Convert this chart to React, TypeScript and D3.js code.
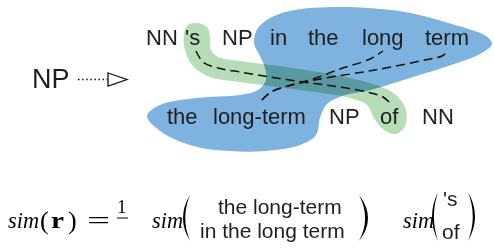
import * as d3 from "d3";

// word rows of the alignment diagram
const topWords = ["NN", "'s", "NP", "in", "the", "long", "term"];
const bottomWords = ["the", "long-term", "NP", "of", "NN"];

// word starts (px)
const topX = [146, 185, 222, 270, 308, 362, 425];
const bottomX = [167, 213, 329, 380, 422];

// region outlines
const blueOutline: [number, number][] = [
  [254, 43], [258, 28], [272, 17], [295, 10], [340, 7], [405, 12], [455, 25],
  [486, 36], [492, 44], [480, 54], [460, 62], [410, 78], [370, 90], [342, 96],
  [327, 104], [320, 118], [316, 135], [300, 145], [265, 151], [230, 151],
  [197, 147], [163, 133], [147, 116], [160, 105], [197, 98], [240, 95],
  [258, 90], [266, 80], [265, 68], [260, 56],
];
const greenOutline: [number, number][] = [
  [196, 23], [207, 27], [210, 38], [211, 50], [218, 57], [240, 61], [300, 69],
  [345, 77], [376, 85], [396, 95], [406, 110], [405, 126], [396, 134],
  [384, 130], [374, 118], [367, 105], [350, 98], [300, 90], [240, 82],
  [210, 77], [192, 65], [185, 50], [184, 33], [188, 25],
];

// alignment links
const links: [number, number][][] = [
  [[196, 51], [203, 62], [218, 68], [240, 72], [270, 77], [303, 82], [333, 86], [367, 92], [383, 97], [390, 103]],
  [[262, 100], [271, 92], [288, 86], [310, 80], [340, 69], [370, 59], [383, 51]],
  [[262, 100], [271, 92], [288, 86], [320, 79], [375, 70], [425, 60], [442, 56], [448, 51]],
];

const colTop = ["the long-term", "'s"];
const colBottom = ["in the long term", "of"];

const sans = "'Liberation Sans', Arial, sans-serif";
const serif = "'Liberation Serif', 'DejaVu Serif', serif";
const ink = "#1f1f1f";

function paren(x0: number, x1: number, y0: number, y1: number) {
  // filled crescent, x0 = tips, x1 = apex
  const ym = (y0 + y1) / 2;
  const cOut = 2 * x1 - x0;
  const inner = x1 + (x0 - x1) * 0.32;
  const cIn = 2 * inner - x0;
  const p = d3.path();
  p.moveTo(x0, y0);
  p.quadraticCurveTo(cOut, ym, x0, y1);
  p.quadraticCurveTo(cIn, ym, x0, y0);
  p.closePath();
  return p.toString();
}

function Sim({ x }: { x: number }) {
  return (
    <text x={x} y={228} fontFamily={serif} fontStyle="italic" fontSize={24} fill="#000"
      textLength={31} lengthAdjust="spacingAndGlyphs">
      sim
    </text>
  );
}

export default function App() {
  const blob = d3.line().curve(d3.curveCatmullRomClosed.alpha(0.5));
  const link = d3.line().curve(d3.curveCatmullRom.alpha(0.5));

  const arrow = d3.path();
  arrow.moveTo(108, 73);
  arrow.lineTo(127, 79.5);
  arrow.lineTo(108, 86);
  arrow.closePath();

  return (
    <svg width={494} height={249} style={{ position: "absolute", left: 0, top: 0 }}>
      <rect width={494} height={249} fill="white" />
      <path d={blob(greenOutline) ?? ""} fill="#b6dcb8" />
      <path d={blob(blueOutline) ?? ""} fill="#7db3de" style={{ mixBlendMode: "multiply" }} />

      {links.map((l, i) => (
        <path key={i} d={link(l) ?? ""} fill="none" stroke="#111" strokeWidth={1.5} strokeDasharray="9 5" />
      ))}

      {topWords.map((w, i) => (
        <text key={"t" + i} x={topX[i]} y={45} fontFamily={sans} fontSize={22} fill={ink}>
          {w}
        </text>
      ))}
      {bottomWords.map((w, i) => (
        <text key={"b" + i} x={bottomX[i]} y={124} fontFamily={sans} fontSize={22} fill={ink}>
          {w}
        </text>
      ))}

      {/* NP ⇢ */}
      <text x={32} y={88} fontFamily={sans} fontSize={27} fill={ink}>NP</text>
      <line x1={78} x2={108} y1={79.5} y2={79.5} stroke="#111" strokeWidth={1.3} strokeDasharray="1.5 2.6" />
      <path d={arrow.toString()} fill="white" stroke="#111" strokeWidth={1.3} strokeLinejoin="miter" />

      {/* formula */}
      <Sim x={8} />
      <text x={40} y={229} fontFamily={serif} fontSize={26} fill="#000">(</text>
      <text x={51} y={228} fontFamily={serif} fontWeight="bold" fontSize={24} fill="#000"
        textLength={13} lengthAdjust="spacingAndGlyphs">r</text>
      <text x={68} y={229} fontFamily={serif} fontSize={26} fill="#000">)</text>
      <text x={87} y={228} fontFamily={serif} fontSize={24} fill="#000"
        textLength={23} lengthAdjust="spacingAndGlyphs">=</text>
      <text x={117} y={213} fontFamily={serif} fontSize={19} fill="#000">1</text>
      <line x1={117} x2={128} y1={218} y2={218} stroke="#000" strokeWidth={1} />

      <Sim x={152} />
      <path d={paren(190, 183, 195, 241)} fill="#000" />
      <text x={218} y={214} fontFamily={sans} fontSize={21} fill={ink}>{colTop[0]}</text>
      <text x={200} y={238} fontFamily={sans} fontSize={21} fill={ink}>{colBottom[0]}</text>
      <path d={paren(359, 368, 195, 241)} fill="#000" />

      <Sim x={403} />
      <path d={paren(438, 432, 192, 241)} fill="#000" />
      <text x={443} y={206} fontFamily={sans} fontSize={21} fill={ink}>{colTop[1]}</text>
      <text x={442} y={239} fontFamily={sans} fontSize={21} fill={ink}>{colBottom[1]}</text>
      <path d={paren(468, 475, 192, 241)} fill="#000" />
    </svg>
  );
}
